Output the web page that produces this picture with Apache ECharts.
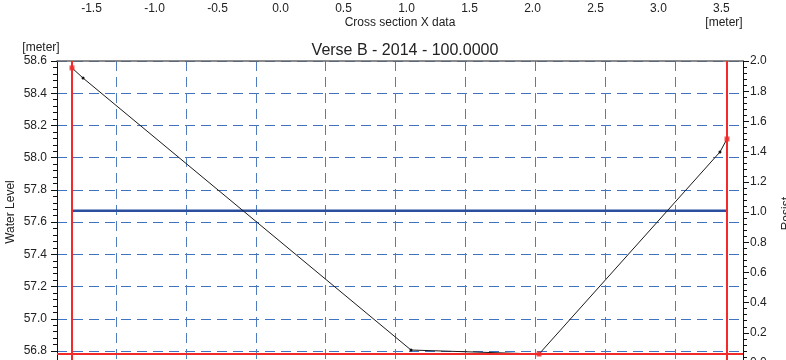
<!DOCTYPE html>
<html>
<head>
<meta charset="utf-8">
<script src="https://cdn.jsdelivr.net/npm/echarts@6/dist/echarts.min.js"></script>
<style>html,body{margin:0;padding:0;background:#fff}#c{width:786px;height:360px}</style>
</head>
<body>
<div id="c"></div>
<script>
// ---- data ----
const crossX = [-1.655, -1.567, 1.036, 2.052, 3.488, 3.544];
const crossLevel = [58.557, 58.494, 56.806, 56.781, 58.035, 58.116];
const keyPointIdx = [0, 3, 5];
const waterSurface = 57.67;
const bedLevel = 56.78;
const bankLeft = -1.655;
const bankRight = 3.544;
const xTickLabels = [-1.5, -1.0, -0.5, 0.0, 0.5, 1.0, 1.5, 2.0, 2.5, 3.0, 3.5];
const titleText = 'Verse B - 2014 - 100.0000';

// ---- layout helpers ----
const FONT = 'Liberation Sans, Arial, sans-serif';
const plotLeft = 57, plotTop = 61, plotW = 686, plotH = 302;
const lvTop = 58.6, lvLabelMin = 56.8, lvLabelH = 290;
const pxPerM = lvLabelH / (lvTop - lvLabelMin);
const lvMin = lvTop - plotH / pxPerM;
const gridDash = [10, 6];
const gridColor = '#4f7cbf';

const chart = echarts.init(document.getElementById('c'), null, {renderer: 'canvas'});
const profile = crossX.map((x, i) => [x, crossLevel[i]]);
const keyPts = keyPointIdx.map(i => profile[i]);

chart.setOption({
  animation: false,
  textStyle: {fontFamily: FONT},
  title: {
    text: titleText, left: 400, top: 38, textAlign: 'center',
    textStyle: {fontSize: 16, fontWeight: 'normal', color: '#222', fontFamily: FONT}
  },
  graphic: [
    {type: 'text', x: 400, y: 23, style: {text: 'Cross section X data', fill: '#222', font: '12px ' + FONT, align: 'center', verticalAlign: 'middle'}},
    {type: 'text', x: 724, y: 23, style: {text: '[meter]', fill: '#222', font: '12px ' + FONT, align: 'center', verticalAlign: 'middle'}},
    {type: 'text', x: 41, y: 48, style: {text: '[meter]', fill: '#222', font: '12px ' + FONT, align: 'center', verticalAlign: 'middle'}}
  ],
  grid: [
    {left: plotLeft, top: plotTop, width: plotW, height: plotH, containLabel: false, outerBoundsMode: 'none'},
    {left: 46.1, top: plotTop, width: 699, height: plotH, containLabel: false, outerBoundsMode: 'none'},
    {left: plotLeft, top: plotTop, width: plotW, height: lvLabelH, containLabel: false, outerBoundsMode: 'none'}
  ],
  xAxis: [
    {gridIndex: 0, type: 'value', position: 'top', min: -1.774, max: 3.671,
     axisLine: {show: true, onZero: false, lineStyle: {color: '#666', width: 1.5}},
     axisTick: {show: false},
     axisLabel: {customValues: xTickLabels, margin: 46, fontSize: 12, color: '#222', formatter: v => v.toFixed(1)},
     splitLine: {show: false}},
    {gridIndex: 1, type: 'value', min: 0, max: 10, interval: 1,
     axisLine: {show: false, onZero: false}, axisTick: {show: false}, axisLabel: {show: false},
     splitLine: {show: true, showMinLine: false, showMaxLine: false, lineStyle: {type: gridDash, color: gridColor, width: 1}}},
    {gridIndex: 2, type: 'value', min: 0, max: 1, show: false, axisLine: {onZero: false}}
  ],
  yAxis: [
    {gridIndex: 0, type: 'value', position: 'left', min: lvMin, max: lvTop,
     axisLine: {show: true, onZero: false, lineStyle: {color: '#111', width: 1}},
     axisTick: {show: false}, axisLabel: {show: false}, splitLine: {show: false},
     name: 'Water Level', nameLocation: 'middle', nameGap: 40,
     nameTextStyle: {fontSize: 12, color: '#222'}},
    {gridIndex: 0, type: 'value', position: 'right', min: 0, max: 2, interval: 0.2,
     axisLine: {show: true, onZero: false, lineStyle: {color: '#111', width: 1}},
     axisTick: {show: true, length: 6, lineStyle: {color: '#111'}},
     minorTick: {show: true, splitNumber: 5, length: 4, lineStyle: {color: '#111'}},
     axisLabel: {margin: 7, fontSize: 12, color: '#222', formatter: v => v.toFixed(1)},
     splitLine: {show: false}, minorSplitLine: {show: false},
     name: 'Resist.', nameLocation: 'middle', nameGap: 38,
     nameTextStyle: {fontSize: 12, color: '#222'}},
    {gridIndex: 1, type: 'value', min: 0, max: 1, show: false, axisLine: {onZero: false}},
    {gridIndex: 2, type: 'value', position: 'left', min: lvLabelMin, max: lvTop, interval: 0.2,
     axisLine: {show: false, onZero: false},
     axisTick: {show: true, length: 6, lineStyle: {color: '#111'}},
     minorTick: {show: true, splitNumber: 5, length: 4, lineStyle: {color: '#111'}},
     axisLabel: {margin: 10, fontSize: 12, color: '#222', formatter: v => v.toFixed(1)},
     splitLine: {show: true, lineStyle: {type: gridDash, color: '#3f72c0', width: 1, opacity: 1}},
     minorSplitLine: {show: false}}
  ],
  series: [
    {type: 'line', xAxisIndex: 0, yAxisIndex: 0,
     data: [[bankLeft, waterSurface], [bankRight, waterSurface]],
     showSymbol: false, lineStyle: {color: '#2c4e9e', width: 2.5}, z: 3,
     markLine: {silent: true, symbol: 'none', label: {show: false},
       lineStyle: {color: '#f22a2a', width: 2, type: 'solid'},
       data: [{xAxis: bankLeft}, {xAxis: bankRight}, {yAxis: bedLevel}]}},
    {type: 'line', xAxisIndex: 0, yAxisIndex: 0, data: profile,
     symbol: 'circle', symbolSize: 3, showSymbol: true,
     itemStyle: {color: '#111'}, lineStyle: {color: '#1a1a1a', width: 1}, z: 4},
    {type: 'scatter', xAxisIndex: 0, yAxisIndex: 0, data: keyPts,
     symbol: 'rect', symbolSize: 5, itemStyle: {color: '#f22a2a'}, z: 5}
  ]
});
</script>
</body>
</html>
